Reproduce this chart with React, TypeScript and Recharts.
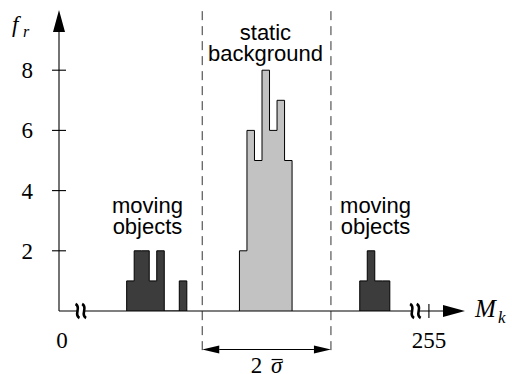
import { ComposedChart, Area, XAxis, YAxis, ReferenceLine, ReferenceDot } from 'recharts';

// histogram heights per bin (bin index along the drawn axis)
const movingLeft = [1, 2, 2, 1, 2, 0, 0, 1];
const staticBg = [2, 6, 5, 8, 6, 7, 5];
const movingRight = [1, 2, 1, 1];
const movingLeftStart = 0;
const staticBgStart = 15;
const movingRightStart = 31;

const yTicks = [2, 4, 6, 8];
const xTickPos = [-9, 40.2];
const xTickLabels = ['0', '255'];
const sigmaBounds = [10.05, 27.17];
const axisBreaks = [-6.1, 38.4];

const serif = { fontFamily: 'Liberation Serif, Times New Roman, serif' };
const sans = { fontFamily: 'Liberation Sans, Arial, sans-serif' };

function stepRows(heights: number[], start: number, key: string) {
  const rows: Record<string, number>[] = [{ x: start, [key]: 0 }];
  heights.forEach((h, i) => rows.push({ x: start + i, [key]: h }));
  rows.push({ x: start + heights.length, [key]: 0 });
  return rows;
}

const data = [
  ...stepRows(movingLeft, movingLeftStart, 'dark'),
  ...stepRows(staticBg, staticBgStart, 'light'),
  ...stepRows(movingRight, movingRightStart, 'dark'),
];

const arrowHead = (x1: number, y1: number, x2: number, y2: number, len: number, half: number) => {
  const d = Math.hypot(x2 - x1, y2 - y1) || 1;
  const ux = (x2 - x1) / d;
  const uy = (y2 - y1) / d;
  const bx = x2 - ux * len;
  const by = y2 - uy * len;
  return {
    bx,
    by,
    points: `${x2},${y2} ${bx - uy * half},${by + ux * half} ${bx + uy * half},${by - ux * half}`,
  };
};

const AxisArrow = (props: any) => {
  const { x1, y1, x2, y2 } = props;
  const h = arrowHead(x1, y1, x2, y2, 22, 6);
  return (
    <g>
      <line x1={x1} y1={y1} x2={h.bx} y2={h.by} stroke="#000" strokeWidth={1.1} />
      <polygon points={h.points} fill="#000" />
    </g>
  );
};

const DoubleArrow = (props: any) => {
  const { x1, y1, x2, y2 } = props;
  const a = arrowHead(x1, y1, x2, y2, 17, 4);
  const b = arrowHead(x2, y2, x1, y1, 17, 4);
  return (
    <g>
      <line x1={b.bx} y1={b.by} x2={a.bx} y2={a.by} stroke="#000" strokeWidth={1.1} />
      <polygon points={a.points} fill="#000" />
      <polygon points={b.points} fill="#000" />
    </g>
  );
};

const Squiggle = ({ cx, cy }: any) => {
  const s = (c: number) =>
    `M${c - 2},${cy - 7} C${c + 4.5},${cy - 3.5} ${c - 4.5},${cy + 3.5} ${c + 2},${cy + 7}`;
  return (
    <g>
      <rect x={cx - 3.5} y={cy - 2} width={7} height={4} fill="#fff" />
      <path d={s(cx - 3.3)} stroke="#000" strokeWidth={2.6} fill="none" />
      <path d={s(cx + 3.3)} stroke="#000" strokeWidth={2.6} fill="none" />
    </g>
  );
};

const caption = (lines: string[]) => ({ cx, cy }: any) => (
  <text x={cx} y={cy} textAnchor="middle" style={sans} fontSize={22} fill="#000">
    {lines.map((l, i) => (
      <tspan key={l} x={cx} dy={i === 0 ? 0 : 21}>
        {l}
      </tspan>
    ))}
  </text>
);

const YLabel = ({ cx, cy }: any) => (
  <text style={serif} fontStyle="italic" fill="#000">
    <tspan x={cx - 47} y={cy + 22} fontSize={23}>f</tspan>
    <tspan x={cx - 36} y={cy + 27} fontSize={16}>r</tspan>
  </text>
);

const XLabel = ({ cx, cy }: any) => (
  <text style={serif} fontStyle="italic" fill="#000">
    <tspan x={cx + 10} y={cy + 6} fontSize={25}>M</tspan>
    <tspan x={cx + 33} y={cy + 12} fontSize={17}>k</tspan>
  </text>
);

const SigmaLabel = ({ cx, cy }: any) => (
  <g>
    <text x={cx - 10} y={cy + 23} textAnchor="middle" style={serif} fontSize={23} fill="#000">
      2
    </text>
    <text x={cx + 10} y={cy + 23} textAnchor="middle" style={serif} fontStyle="italic" fontSize={23} fill="#000">
      σ
    </text>
    <line x1={cx + 5} x2={cx + 16} y1={cy + 10} y2={cy + 10} stroke="#000" strokeWidth={1.2} />
  </g>
);

const YTick = ({ x, y, payload }: any) => (
  <g>
    <line x1={x - 7} x2={x + 7} y1={y} y2={y} stroke="#000" strokeWidth={1.1} />
    <text x={x - 26} y={y + 8} textAnchor="end" style={serif} fontSize={23} fill="#000">
      {payload.value}
    </text>
  </g>
);

const XTick = ({ x, y, payload }: any) => {
  const i = xTickPos.indexOf(payload.value);
  return (
    <g>
      {i > 0 && <line x1={x} x2={x} y1={y - 7} y2={y + 7} stroke="#000" strokeWidth={1.1} />}
      <text x={x + (i === 0 ? 3 : 0)} y={y + 37} textAnchor="middle" style={serif} fontSize={23} fill="#000">
        {xTickLabels[i]}
      </text>
    </g>
  );
};

export default function App() {
  return (
    <div style={{ position: 'fixed', left: 0, top: 0, background: '#fff' }}>
      <ComposedChart width={512} height={374} data={data} margin={{ top: 10, right: 47, bottom: 0, left: 0 }}>
        <XAxis
          type="number"
          dataKey="x"
          domain={[-9, 45]}
          ticks={xTickPos}
          interval={0}
          height={63}
          axisLine={false}
          tickLine={false}
          tickSize={0}
          tickMargin={0}
          tick={<XTick />}
          allowDataOverflow
        />
        <YAxis
          type="number"
          domain={[0, 10]}
          ticks={yTicks}
          interval={0}
          width={59}
          axisLine={false}
          tickLine={false}
          tickSize={0}
          tickMargin={0}
          tick={<YTick />}
          allowDataOverflow
        />
        <Area
          type="stepAfter"
          dataKey="light"
          fill="#c2c2c2"
          fillOpacity={1}
          stroke="#000"
          strokeWidth={1}
          dot={false}
          activeDot={false}
          isAnimationActive={false}
        />
        <Area
          type="stepAfter"
          dataKey="dark"
          fill="#3c3c3c"
          fillOpacity={1}
          stroke="#000"
          strokeWidth={1}
          dot={false}
          activeDot={false}
          isAnimationActive={false}
        />
        {sigmaBounds.map((b) => (
          <ReferenceLine
            key={b}
            segment={[{ x: b, y: -1.3 }, { x: b, y: 10.07 }]}
            stroke="#333"
            strokeWidth={1}
            strokeDasharray="9 6"
            ifOverflow="visible"
          />
        ))}
        <ReferenceLine
          segment={[{ x: sigmaBounds[0], y: -1.28 }, { x: sigmaBounds[1], y: -1.28 }]}
          shape={DoubleArrow}
          ifOverflow="visible"
        />
        <ReferenceLine segment={[{ x: -9, y: 0 }, { x: 45, y: 0 }]} shape={AxisArrow} ifOverflow="visible" />
        <ReferenceLine segment={[{ x: -9, y: 0 }, { x: -9, y: 10 }]} shape={AxisArrow} ifOverflow="visible" />
        {axisBreaks.map((b) => (
          <ReferenceDot key={b} x={b} y={0} r={0} shape={Squiggle} ifOverflow="visible" />
        ))}
        <ReferenceDot x={-9} y={10} r={0} shape={YLabel} ifOverflow="visible" />
        <ReferenceDot x={45} y={0} r={0} shape={XLabel} ifOverflow="visible" />
        <ReferenceDot x={(sigmaBounds[0] + sigmaBounds[1]) / 2} y={-1.28} r={0} shape={SigmaLabel} ifOverflow="visible" />
        <ReferenceDot x={18.46} y={9.0} r={0} shape={caption(['static', 'background'])} ifOverflow="visible" />
        <ReferenceDot x={2.77} y={3.26} r={0} shape={caption(['moving', 'objects'])} ifOverflow="visible" />
        <ReferenceDot x={33.1} y={3.26} r={0} shape={caption(['moving', 'objects'])} ifOverflow="visible" />
      </ComposedChart>
    </div>
  );
}
